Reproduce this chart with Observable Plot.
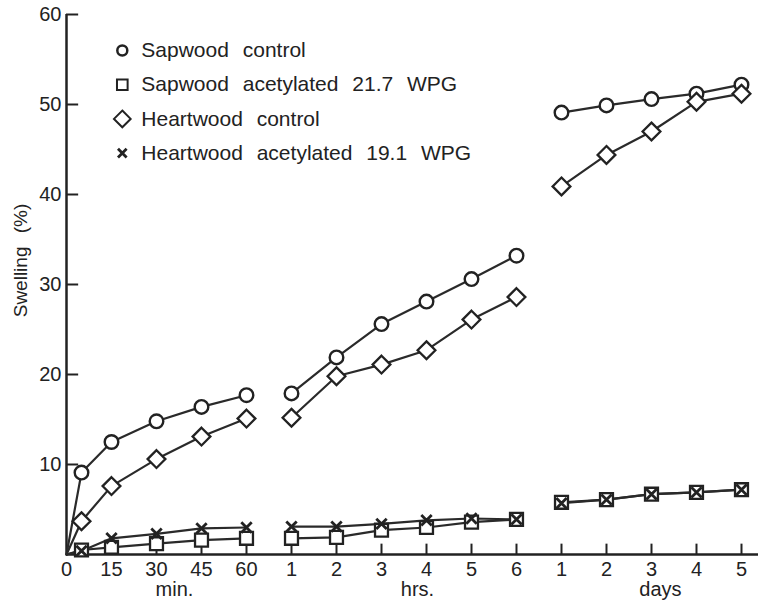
<!DOCTYPE html>
<html>
<head>
<meta charset="utf-8">
<script src="https://cdn.jsdelivr.net/npm/d3@7"></script>
<script src="https://cdn.jsdelivr.net/npm/@observablehq/plot@0.6"></script>
<style>
  body { margin: 0; background: #fff; }
  #chart svg { display: block; }
  #chart svg text { word-spacing: 8px; }
</style>
</head>
<body>
<div id="chart"></div>
<script>
// Time points of the three segments of the broken x axis
const minutes = [0, 5, 15, 30, 45, 60];
const hours = [1, 2, 3, 4, 5, 6];
const days = [1, 2, 3, 4, 5];

// Swelling (%) : 6 minute values, 6 hour values, 5 day values
const sapwoodControl      = [0, 9.1, 12.5, 14.8, 16.4, 17.7,  17.9, 21.9, 25.6, 28.1, 30.6, 33.2,  49.1, 49.9, 50.6, 51.2, 52.2];
const sapwoodAcetylated   = [0, 0.5, 0.8, 1.2, 1.6, 1.8,      1.8, 1.9, 2.7, 3.0, 3.6, 3.9,        5.8, 6.1, 6.7, 6.9, 7.2];
const heartwoodControl    = [0, 3.7, 7.6, 10.6, 13.1, 15.1,   15.2, 19.8, 21.1, 22.7, 26.1, 28.6,  40.9, 44.4, 47.0, 50.3, 51.2];
const heartwoodAcetylated = [0, 0.4, 1.8, 2.3, 2.9, 3.0,      3.1, 3.1, 3.4, 3.8, 4.0, 3.9,        5.7, 6.1, 6.7, 6.9, 7.2];

const seriesNames = ["Sapwood control", "Sapwood acetylated 21.7 WPG", "Heartwood control", "Heartwood acetylated 19.1 WPG"];
const seriesSymbols = ["circle", "square", "diamond2", "times"];

const yTicks = [10, 20, 30, 40, 50, 60];
const minuteTicks = [0, 15, 30, 45, 60];
const hourTicks = [1, 2, 3, 4, 5, 6];
const dayTicks = [1, 2, 3, 4, 5];
const unitLabels = ["min.", "hrs.", "days"];

// Broken-axis position: each segment step is one unit
function pos(unit, t) {
  if (unit === "min") return t / 15;
  if (unit === "hrs") return 4 + t;
  return 10 + t;
}

const allSeries = [sapwoodControl, sapwoodAcetylated, heartwoodControl, heartwoodAcetylated];
const times = [
  ...minutes.map(t => ({unit: "min", t})),
  ...hours.map(t => ({unit: "hrs", t})),
  ...days.map(t => ({unit: "days", t}))
];
const rows = [];
allSeries.forEach((vals, s) => {
  vals.forEach((v, i) => {
    const {unit, t} = times[i];
    rows.push({series: seriesNames[s], s, unit, t, pos: pos(unit, t), value: v});
  });
});
const marked = rows.filter(d => !(d.unit === "min" && d.t === 0));

const xTickData = [
  ...minuteTicks.map(t => ({pos: pos("min", t), label: String(t)})),
  ...hourTicks.map(t => ({pos: pos("hrs", t), label: String(t)})),
  ...dayTicks.map(t => ({pos: pos("days", t), label: String(t)}))
];
const unitData = [
  {pos: (pos("min", 0) + pos("min", 60)) / 2 + 0.4, label: unitLabels[0]},
  {pos: (pos("hrs", 1) + pos("hrs", 6)) / 2 + 0.3, label: unitLabels[1]},
  {pos: (pos("days", 1) + pos("days", 5)) / 2 + 0.2, label: unitLabels[2]}
];
const legendData = seriesNames.map((name, i) => ({name, symbol: seriesSymbols[i], y: 56 - i * 3.8}));

const ink = "#222";
const font = "'Liberation Sans', Arial, Helvetica, sans-serif";

const chart = Plot.plot({
  width: 758,
  height: 601,
  marginLeft: 66,
  marginRight: 0,
  marginTop: 14,
  marginBottom: 47,
  style: {fontFamily: font, color: ink, background: "#fff"},
  x: {domain: [0, 15.378], axis: null},
  y: {domain: [0, 60], axis: null},
  marks: [
    // axes
    Plot.ruleY([0], {stroke: ink, strokeWidth: 2.5}),
    Plot.ruleX([0], {y1: 0, y2: 60, stroke: ink, strokeWidth: 2.5}),
    Plot.ruleY(yTicks, {x1: 0, x2: 0.27, stroke: ink, strokeWidth: 2}),
    Plot.ruleX(xTickData.filter(d => d.pos > 0), {x: "pos", y1: 0, y2: 1.15, stroke: ink, strokeWidth: 2}),
    Plot.text(yTicks, {x: 0, y: d => d, text: d => String(d), dx: -5, textAnchor: "end", fontSize: 20, fill: ink}),
    Plot.text(xTickData, {x: "pos", y: 0, text: "label", dy: 15, fontSize: 20, fill: ink}),
    Plot.text(unitData, {x: "pos", y: 0, text: "label", dy: 35, fontSize: 20, fill: ink}),
    Plot.text(["Swelling (%)"], {frameAnchor: "left", textAnchor: "middle", rotate: -90, dx: -46, dy: -24, fontSize: 19, fill: ink}),
    // data lines
    Plot.line(rows, {x: "pos", y: "value", z: d => d.series + d.unit, stroke: "#2a2a2a", strokeWidth: 2.2}),
    // markers
    Plot.dot(marked.filter(d => d.s === 1), {x: "pos", y: "value", symbol: "square", r: 7.3, fill: "#fff", stroke: ink, strokeWidth: 2.3}),
    Plot.dot(marked.filter(d => d.s === 3), {x: "pos", y: "value", symbol: "times", r: 4.8, stroke: ink, strokeWidth: 2.8}),
    Plot.dot(marked.filter(d => d.s === 0), {x: "pos", y: "value", symbol: "circle", r: 6.8, fill: "#fff", stroke: ink, strokeWidth: 2.4}),
    Plot.dot(marked.filter(d => d.s === 2), {x: "pos", y: "value", symbol: "diamond2", r: 8, fill: "#fff", stroke: ink, strokeWidth: 2.3}),
    // legend
    Plot.dot(legendData.filter(d => d.symbol === "circle"), {x: 1.24, y: "y", symbol: "circle", r: 5, fill: "#fff", stroke: ink, strokeWidth: 2.5}),
    Plot.dot(legendData.filter(d => d.symbol === "square"), {x: 1.24, y: "y", symbol: "square", r: 6, fill: "#fff", stroke: ink, strokeWidth: 2}),
    Plot.dot(legendData.filter(d => d.symbol === "diamond2"), {x: 1.24, y: "y", symbol: "diamond2", r: 7.5, fill: "#fff", stroke: ink, strokeWidth: 2}),
    Plot.dot(legendData.filter(d => d.symbol === "times"), {x: 1.24, y: "y", symbol: "times", r: 4, stroke: ink, strokeWidth: 2.8}),
    Plot.text(legendData, {x: 1.24, y: "y", text: "name", dx: 19, textAnchor: "start", fontSize: 21, fill: ink})
  ]
});
document.getElementById("chart").appendChild(chart);
</script>
</body>
</html>
